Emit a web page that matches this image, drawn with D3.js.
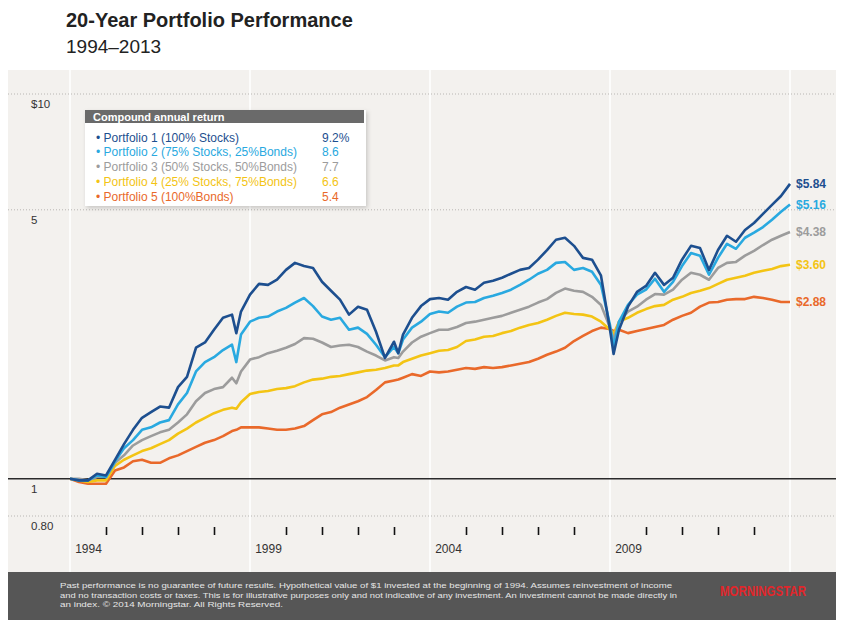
<!DOCTYPE html>
<html>
<head>
<meta charset="utf-8">
<title>20-Year Portfolio Performance</title>
<script src="https://cdn.jsdelivr.net/npm/d3@7"></script>
<style>
  body { margin: 0; background: #fff; font-family: "Liberation Sans", Arial, sans-serif; }
</style>
</head>
<body>
<svg id="chart" width="842" height="620"></svg>
<script>
// dates as decimal years (quarterly, plus a few turning points)
var dates = [1994, 1994.25, 1994.5, 1994.75, 1995, 1995.25, 1995.5, 1995.75, 1996, 1996.25,
  1996.5, 1996.75, 1997, 1997.25, 1997.5, 1997.75, 1998, 1998.25, 1998.5, 1998.62,
  1998.75, 1999, 1999.25, 1999.5, 1999.75, 2000, 2000.25, 2000.5, 2000.75, 2001,
  2001.25, 2001.5, 2001.75, 2002, 2002.25, 2002.5, 2002.75, 2003, 2003.12, 2003.25,
  2003.5, 2003.75, 2004, 2004.25, 2004.5, 2004.75, 2005, 2005.25, 2005.5, 2005.75,
  2006, 2006.25, 2006.5, 2006.75, 2007, 2007.25, 2007.5, 2007.75, 2008, 2008.25,
  2008.5, 2008.75, 2009, 2009.1, 2009.25, 2009.5, 2009.75, 2010, 2010.25, 2010.5,
  2010.75, 2011, 2011.25, 2011.5, 2011.75, 2012, 2012.25, 2012.5, 2012.75, 2013,
  2013.25, 2013.5, 2013.75, 2014];

// growth of $1
var p1 = [1.00, 0.99, 0.99, 1.03, 1.02, 1.12, 1.23, 1.34, 1.44, 1.49,
  1.54, 1.53, 1.73, 1.84, 2.19, 2.26, 2.44, 2.62, 2.67, 2.39,
  2.72, 3.01, 3.21, 3.19, 3.29, 3.49, 3.64, 3.57, 3.53, 3.25,
  3.08, 2.92, 2.67, 2.80, 2.75, 2.41, 2.06, 2.27, 2.12, 2.37,
  2.62, 2.81, 2.93, 2.95, 2.92, 3.06, 3.15, 3.10, 3.23, 3.27,
  3.33, 3.41, 3.49, 3.53, 3.71, 3.93, 4.18, 4.23, 4.03, 3.75,
  3.71, 3.37, 2.44, 2.11, 2.44, 2.80, 3.06, 3.17, 3.43, 3.19,
  3.33, 3.71, 4.03, 3.98, 3.49, 3.93, 4.28, 4.13, 4.43, 4.62,
  4.88, 5.15, 5.43, 5.84];
var p2 = [1.00, 0.99, 0.99, 1.02, 1.01, 1.11, 1.20, 1.26, 1.34, 1.36,
  1.40, 1.42, 1.56, 1.67, 1.90, 2.01, 2.07, 2.16, 2.23, 2.01,
  2.37, 2.56, 2.62, 2.64, 2.72, 2.78, 2.87, 2.95, 2.81, 2.64,
  2.59, 2.62, 2.44, 2.47, 2.38, 2.23, 2.07, 2.20, 2.12, 2.30,
  2.47, 2.56, 2.68, 2.72, 2.70, 2.80, 2.87, 2.88, 2.95, 2.99,
  3.04, 3.10, 3.19, 3.29, 3.41, 3.49, 3.64, 3.66, 3.49, 3.53,
  3.45, 3.19, 2.51, 2.20, 2.56, 2.83, 3.01, 3.10, 3.31, 3.06,
  3.25, 3.57, 3.86, 3.80, 3.39, 3.75, 4.08, 3.96, 4.23, 4.36,
  4.51, 4.71, 4.94, 5.16];
var p3 = [1.00, 1.00, 0.99, 1.01, 1.01, 1.10, 1.15, 1.22, 1.26, 1.29,
  1.32, 1.34, 1.40, 1.47, 1.59, 1.67, 1.71, 1.73, 1.83, 1.77,
  1.90, 2.04, 2.07, 2.12, 2.15, 2.19, 2.24, 2.32, 2.31, 2.26,
  2.20, 2.22, 2.23, 2.20, 2.14, 2.09, 2.03, 2.07, 2.06, 2.14,
  2.26, 2.34, 2.39, 2.44, 2.44, 2.48, 2.54, 2.56, 2.59, 2.62,
  2.65, 2.70, 2.75, 2.80, 2.87, 2.93, 3.04, 3.12, 3.08, 3.06,
  2.97, 2.83, 2.47, 2.30, 2.56, 2.72, 2.80, 2.92, 3.02, 3.01,
  3.10, 3.29, 3.43, 3.39, 3.29, 3.53, 3.64, 3.66, 3.80, 3.91,
  4.05, 4.18, 4.28, 4.38];
var p4 = [1.00, 0.99, 0.98, 0.99, 0.99, 1.08, 1.12, 1.15, 1.18, 1.20,
  1.23, 1.26, 1.31, 1.35, 1.40, 1.44, 1.48, 1.51, 1.53, 1.52,
  1.58, 1.66, 1.68, 1.69, 1.71, 1.72, 1.74, 1.78, 1.81, 1.82,
  1.84, 1.85, 1.87, 1.89, 1.91, 1.92, 1.94, 1.97, 1.97, 2.01,
  2.05, 2.09, 2.12, 2.15, 2.16, 2.20, 2.28, 2.30, 2.34, 2.35,
  2.39, 2.42, 2.47, 2.51, 2.54, 2.59, 2.65, 2.70, 2.68, 2.67,
  2.64, 2.56, 2.44, 2.38, 2.56, 2.62, 2.70, 2.76, 2.81, 2.83,
  2.92, 2.97, 3.04, 3.08, 3.13, 3.21, 3.29, 3.33, 3.37, 3.43,
  3.47, 3.51, 3.57, 3.60];
var p5 = [1.00, 0.98, 0.97, 0.97, 0.97, 1.05, 1.07, 1.11, 1.12, 1.10,
  1.10, 1.13, 1.15, 1.18, 1.21, 1.24, 1.26, 1.29, 1.33, 1.34,
  1.36, 1.36, 1.36, 1.35, 1.34, 1.34, 1.35, 1.37, 1.42, 1.47,
  1.49, 1.53, 1.56, 1.59, 1.63, 1.70, 1.78, 1.80, 1.81, 1.83,
  1.87, 1.85, 1.90, 1.89, 1.90, 1.92, 1.94, 1.93, 1.95, 1.94,
  1.95, 1.97, 1.99, 2.01, 2.05, 2.10, 2.14, 2.19, 2.28, 2.35,
  2.42, 2.47, 2.45, 2.42, 2.44, 2.39, 2.42, 2.45, 2.48, 2.51,
  2.59, 2.65, 2.70, 2.80, 2.87, 2.88, 2.92, 2.93, 2.93, 2.97,
  2.95, 2.92, 2.88, 2.88];

var seriesNames = ["Portfolio 1 (100% Stocks)", "Portfolio 2 (75% Stocks, 25%Bonds)",
  "Portfolio 3 (50% Stocks, 50%Bonds)", "Portfolio 4 (25% Stocks, 75%Bonds)",
  "Portfolio 5 (100%Bonds)"];
var annualReturns = ["9.2%", "8.6", "7.7", "6.6", "5.4"];
var endLabels = ["$5.84", "$5.16", "$4.38", "$3.60", "$2.88"];
var yTicks = [10, 5, 1, 0.8];
var yTickLabels = ["$10", "5", "1", "0.80"];
var yearLabels = [1994, 1999, 2004, 2009];

var colors = ["#1d4f8f", "#29a9e0", "#9c9c9c", "#f3c414", "#e9692a"];
var series = [p1, p2, p3, p4, p5];

var svg = d3.select("#chart");
var font = "'Liberation Sans', Arial, sans-serif";

// title
svg.append("text").attr("x", 66).attr("y", 27)
  .style("font", "bold 20px " + font).attr("fill", "#222")
  .text("20-Year Portfolio Performance");
svg.append("text").attr("x", 66).attr("y", 53)
  .style("font", "19px " + font).attr("fill", "#222")
  .text("1994\u20132013");

// panel
svg.append("rect").attr("x", 8).attr("y", 70).attr("width", 828).attr("height", 502)
  .attr("fill", "#f3f1ee");

var x = d3.scaleLinear().domain([1994, 2014]).range([70, 790]);
var y = d3.scaleLog().domain([0.8, 10]).range([516, 94]);

// white year dividers every 5 years
svg.append("g").selectAll("line")
  .data(d3.range(1994, 2015, 5))
  .enter().append("line")
  .attr("x1", function(d) { return x(d); })
  .attr("x2", function(d) { return x(d); })
  .attr("y1", 70).attr("y2", 572)
  .attr("stroke", "#fff").attr("stroke-width", 1.5);

// horizontal grid
svg.append("g").selectAll("line")
  .data(yTicks)
  .enter().append("line")
  .attr("x1", 8).attr("x2", 836)
  .attr("y1", function(d) { return y(d); })
  .attr("y2", function(d) { return y(d); })
  .attr("stroke", function(d) { return d === 1 ? "#2a2a2a" : "#b8b6b3"; })
  .attr("stroke-width", function(d) { return d === 1 ? 1.6 : 1; })
  .attr("stroke-dasharray", function(d) { return d === 1 ? null : "1,2"; });

svg.append("g").selectAll("text")
  .data(yTicks)
  .enter().append("text")
  .attr("x", 31)
  .attr("y", function(d) { return y(d) + 14; })
  .style("font", "11.5px " + font).attr("fill", "#333")
  .text(function(d, i) { return yTickLabels[i]; });

// year tick marks
var tickYears = d3.range(1995, 2014).filter(function(d) { return (d - 1994) % 5 !== 0; });
var tickAxis = d3.axisBottom(x).tickValues(tickYears).tickSize(8).tickFormat("");
svg.append("g").attr("transform", "translate(0,527)")
  .call(tickAxis)
  .call(function(g) {
    g.select(".domain").remove();
    g.selectAll(".tick line").attr("stroke", "#111").attr("stroke-width", 1.6);
  });

// year labels centred in their year
var labelAxis = d3.axisBottom(x)
  .tickValues(yearLabels.map(function(d) { return d + 0.5; }))
  .tickSize(0).tickPadding(0)
  .tickFormat(function(d) { return Math.floor(d); });
svg.append("g").attr("transform", "translate(0,544)")
  .call(labelAxis)
  .call(function(g) {
    g.select(".domain").remove();
    g.selectAll("text").style("font", "12px " + font).attr("fill", "#333");
  });

// lines
var line = d3.line()
  .x(function(d, i) { return x(dates[i]); })
  .y(function(d) { return y(d); });

svg.append("g").selectAll("path")
  .data(series.slice().reverse())
  .enter().append("path")
  .attr("d", line)
  .attr("fill", "none")
  .attr("stroke", function(d, i) { return colors[4 - i]; })
  .attr("stroke-width", 2.6)
  .attr("stroke-linejoin", "round");

// end values
svg.append("g").selectAll("text")
  .data(series)
  .enter().append("text")
  .attr("x", 796)
  .attr("y", function(d) { return y(d[d.length - 1]) + 4; })
  .style("font", "bold 12px " + font)
  .attr("fill", function(d, i) { return colors[i]; })
  .text(function(d, i) { return endLabels[i]; });

// legend box
var defs = svg.append("defs");
var f = defs.append("filter").attr("id", "shadow")
  .attr("x", "-5%").attr("y", "-5%").attr("width", "115%").attr("height", "120%");
f.append("feDropShadow").attr("dx", 1.5).attr("dy", 2).attr("stdDeviation", 2)
  .attr("flood-color", "#000").attr("flood-opacity", 0.18);

var legend = svg.append("g");
legend.append("rect").attr("x", 85).attr("y", 110).attr("width", 281).attr("height", 96)
  .attr("fill", "#fff").attr("filter", "url(#shadow)");
legend.append("rect").attr("x", 85).attr("y", 110).attr("width", 279).attr("height", 13)
  .attr("fill", "#6a6a6a");
legend.append("text").attr("x", 93).attr("y", 120.5)
  .style("font", "bold 11px " + font).attr("fill", "#fff")
  .text("Compound annual return");

var rows = legend.selectAll("g.row")
  .data(seriesNames)
  .enter().append("g").attr("class", "row")
  .attr("transform", function(d, i) { return "translate(0," + (141.5 + i * 14.8) + ")"; });
rows.append("text").attr("x", 96)
  .style("font", "12px " + font)
  .attr("fill", function(d, i) { return colors[i]; })
  .text(function(d) { return "\u2022 " + d; });
rows.append("text").attr("x", 322)
  .style("font", "12px " + font)
  .attr("fill", function(d, i) { return colors[i]; })
  .text(function(d, i) { return annualReturns[i]; });

// footer
svg.append("rect").attr("x", 8).attr("y", 572).attr("width", 828).attr("height", 48)
  .attr("fill", "#565656");
var footLines = [
  "Past performance is no guarantee of future results. Hypothetical value of $1 invested at the beginning of 1994. Assumes reinvestment of income",
  "and no transaction costs or taxes. This is for illustrative purposes only and not indicative of any investment. An investment cannot be made directly in",
  "an index. \u00a9 2014 Morningstar. All Rights Reserved."
];
var footWidths = [612, 617, 223];
svg.append("g").selectAll("text")
  .data(footLines)
  .enter().append("text")
  .attr("x", 60)
  .attr("y", function(d, i) { return 588 + i * 9.5; })
  .attr("textLength", function(d, i) { return footWidths[i]; })
  .attr("lengthAdjust", "spacingAndGlyphs")
  .style("font", "8px " + font).attr("fill", "#e6e6e6")
  .text(function(d) { return d; });
svg.append("text").attr("x", 720).attr("y", 596)
  .attr("textLength", 86).attr("lengthAdjust", "spacingAndGlyphs")
  .style("font", "bold 14px " + font).attr("fill", "#e0262b")
  .text("MORNINGSTAR");
</script>
</body>
</html>
